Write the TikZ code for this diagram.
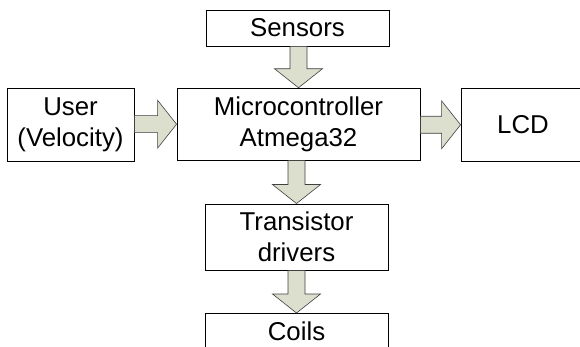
\documentclass[tikz,border=0pt]{standalone}
\usepackage{fontspec}
\setmainfont{Liberation Sans}
\usepackage{tikz}
\usetikzlibrary{positioning}
\usetikzlibrary{calc}

\definecolor{ArrowFill}{RGB}{220,223,205}

\tikzset{
	block/.style={draw=black, line width=0.9pt, fill=white, align=center,
		inner sep=0pt, font=\fontsize{25.8}{31.5}\selectfont},
	blockarrow/.style={draw=black!75, line width=0.6pt, fill=ArrowFill, line join=miter},
}

% Fat arrow from bottom of #1 down to top of #2
\newcommand{\downblock}[2]{%
	\path (#1.south -| #2.north) coordinate (ArrBeg) (#2.north) coordinate (ArrEnd);
	\draw[blockarrow] ($(ArrBeg)+(-8.5,0)$) -- ($(ArrEnd)+(-8.5,-19)$)
		-- ($(ArrEnd)+(-24,-19)$) -- (ArrEnd) -- ($(ArrEnd)+(24,-19)$)
		-- ($(ArrEnd)+(8.5,-19)$) -- ($(ArrBeg)+(8.5,0)$) -- cycle;
}
% Fat arrow from right side of #1 to left side of #2
\newcommand{\rightblock}[2]{%
	\path (#1.east |- #2.west) coordinate (ArrBeg) (#2.west) coordinate (ArrEnd);
	\draw[blockarrow] ($(ArrBeg)+(0,-8.5)$) -- ($(ArrEnd)+(-19,-8.5)$)
		-- ($(ArrEnd)+(-19,-24)$) -- (ArrEnd) -- ($(ArrEnd)+(-19,24)$)
		-- ($(ArrEnd)+(-19,8.5)$) -- ($(ArrBeg)+(0,8.5)$) -- cycle;
}

\begin{document}
\begin{tikzpicture}[x=1pt, y=-1pt]
	
	% ------------------------------------------------
	% Ensure the dimensions of graphic are appropriate
	\useasboundingbox (0,0) rectangle (580,347);
	
	% ------------------------------------------------
	% Blocks
	\node[block, minimum width=243, minimum height=72] (Micro) at (298.5,124.2) {Microcontroller\\Atmega32};
	
	\node[block, minimum width=183, minimum height=36] (Sensors) at (297.5,28) {Sensors};
	\node[block, minimum width=127, minimum height=73] (User) at (70.5,124.8) {User\\(Velocity)};
	\node[block, minimum width=124, minimum height=73] (LCD) at (523,124.8) {LCD};
	\node[block, minimum width=183, minimum height=66] (Drivers) at (296.5,237) {Transistor\\drivers};
	
	% Coils box runs off the bottom edge
	\node[block, minimum width=183, anchor=north, inner ysep=8pt, text depth=22pt] (Coils) at (296.5,313) {Coils};
	
	%%%%%%%%%%%%%%%%%%%%%%%%%%%%%%%%%%%%%%%%%
	% Arrows
	\downblock{Sensors}{Micro}
	\rightblock{User}{Micro}
	\rightblock{Micro}{LCD}
	\downblock{Micro}{Drivers}
	\downblock{Drivers}{Coils}
	
\end{tikzpicture}
\end{document}
